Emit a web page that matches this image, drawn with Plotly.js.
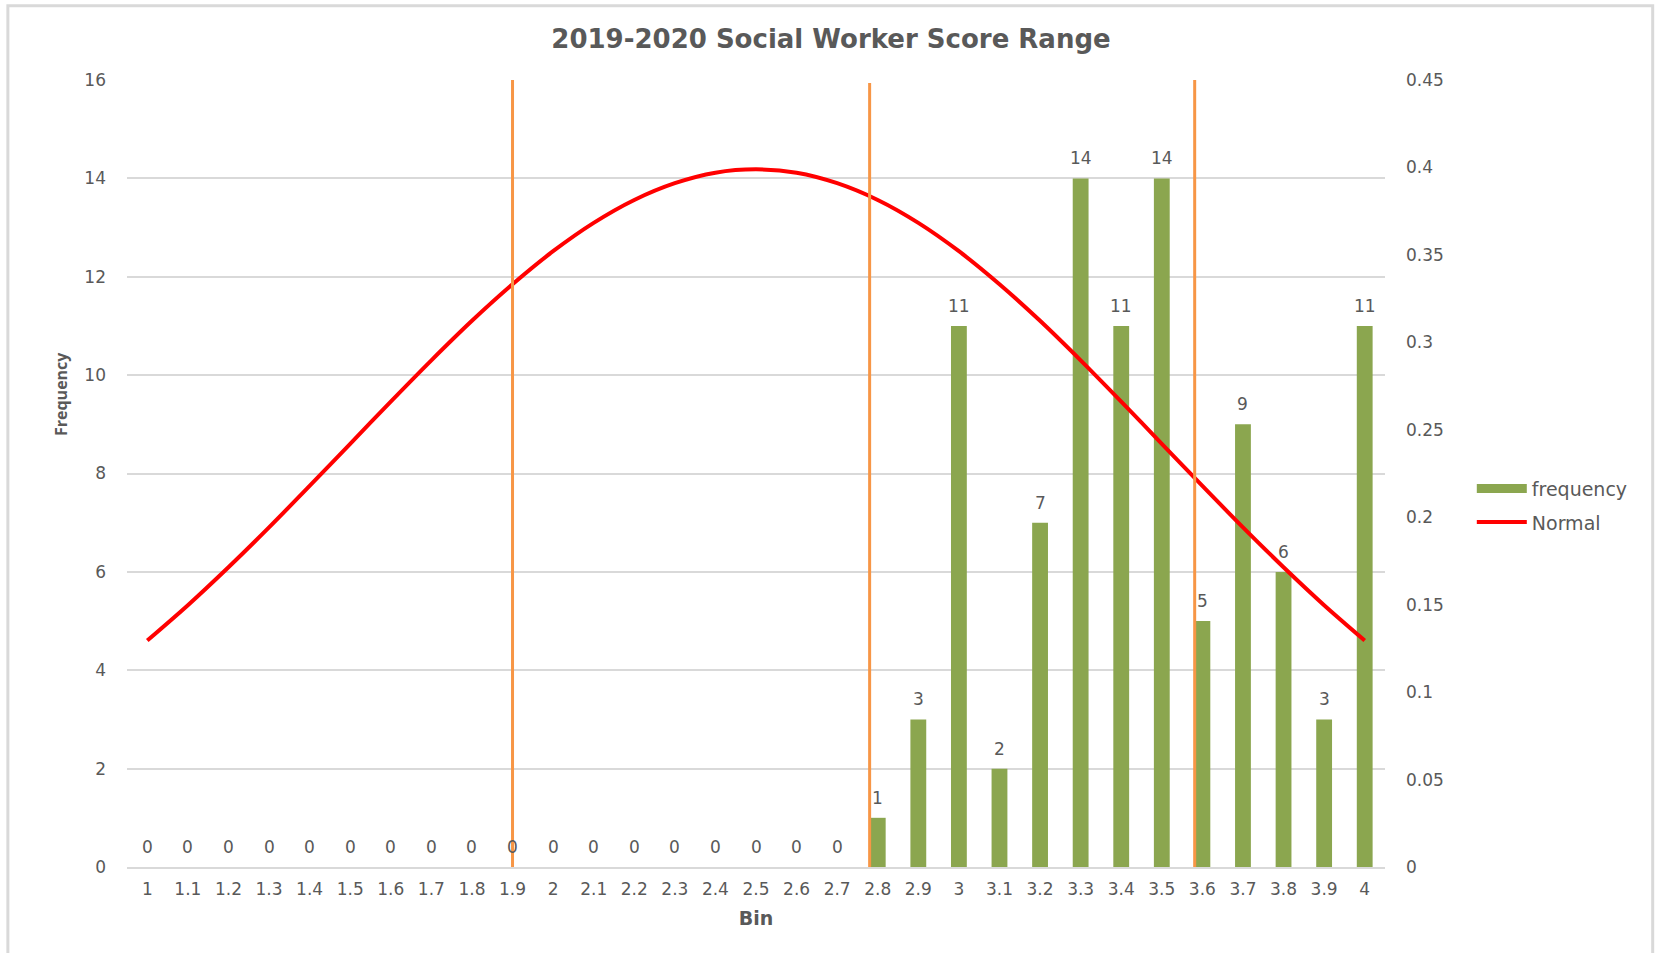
<!DOCTYPE html>
<html>
<head>
<meta charset="utf-8">
<script src="https://cdn.plot.ly/plotly-3.0.1.min.js"></script>
<style>
  html, body { margin: 0; padding: 0; background: #ffffff; }
  #chart { width: 1656px; height: 953px; }
</style>
</head>
<body>
<div id="chart"></div>
<script>
// ---- data ----
const bins = [1, 1.1, 1.2, 1.3, 1.4, 1.5, 1.6, 1.7, 1.8, 1.9,
              2, 2.1, 2.2, 2.3, 2.4, 2.5, 2.6, 2.7, 2.8, 2.9,
              3, 3.1, 3.2, 3.3, 3.4, 3.5, 3.6, 3.7, 3.8, 3.9, 4];
const binLabels = ["1","1.1","1.2","1.3","1.4","1.5","1.6","1.7","1.8","1.9",
                   "2","2.1","2.2","2.3","2.4","2.5","2.6","2.7","2.8","2.9",
                   "3","3.1","3.2","3.3","3.4","3.5","3.6","3.7","3.8","3.9","4"];
const frequency = [0, 0, 0, 0, 0, 0, 0, 0, 0, 0,
                   0, 0, 0, 0, 0, 0, 0, 0, 1, 3,
                   11, 2, 7, 14, 11, 14, 5, 9, 6, 3, 11];
const normal = [0.1295, 0.1497, 0.1714, 0.1942, 0.2179, 0.2420, 0.2661, 0.2897, 0.3123, 0.3332,
                0.3521, 0.3683, 0.3814, 0.3910, 0.3970, 0.3989, 0.3970, 0.3910, 0.3814, 0.3683,
                0.3521, 0.3332, 0.3123, 0.2897, 0.2661, 0.2420, 0.2179, 0.1942, 0.1714, 0.1497, 0.1295];
const markerLines = [1.9, 2.78, 3.581];
const markerTops = [16.0, 15.94, 16.05];
const leftTicks = [0, 2, 4, 6, 8, 10, 12, 14, 16];
const rightTicks = [0, 0.05, 0.1, 0.15, 0.2, 0.25, 0.3, 0.35, 0.4, 0.45];
const rightTickLabels = ["0", "0.05", "0.1", "0.15", "0.2", "0.25", "0.3", "0.35", "0.4", "0.45"];

const GREY = "#595959";
const FONT = "DejaVu Sans, Open Sans, sans-serif";

const traces = [
  {
    type: "bar",
    x: bins,
    y: frequency,
    name: "frequency",
    marker: { color: "#8BA64F" },
    showlegend: false,
    hoverinfo: "x+y",
    legendgroup: "a",
    xaxis: "x", yaxis: "y"
  },
  {
    type: "scatter",
    mode: "lines",
    x: [null], y: [null],
    name: "frequency",
    line: { color: "#8BA64F", width: 9 },
    legendgroup: "a",
    xaxis: "x", yaxis: "y"
  },
  {
    type: "scatter",
    mode: "lines",
    x: bins,
    y: normal,
    name: "Normal",
    line: { color: "#FF0000", width: 4, shape: "spline", smoothing: 0.8 },
    legendgroup: "b",
    xaxis: "x", yaxis: "y2"
  }
];

const shapes = markerLines.map((xv, i) => ({
  type: "line", xref: "x", yref: "y",
  x0: xv, x1: xv, y0: 0, y1: markerTops[i],
  line: { color: "#F79646", width: 3 },
  layer: "above"
}));
// chart border (light grey frame)
shapes.push({
  type: "rect", xref: "paper", yref: "paper",
  x0: -0.0947, x1: 1.2128, y0: -0.12, y1: 1.0945,
  line: { color: "#D9D9D9", width: 3 },
  fillcolor: "rgba(0,0,0,0)",
  layer: "below"
});

// data labels above each bar
const labelAnnotations = frequency.map((v, i) => ({
  x: bins[i], y: v, xref: "x", yref: "y",
  text: String(v),
  showarrow: false,
  xanchor: "center", yanchor: "middle",
  yshift: 20,
  font: { family: FONT, size: 17, color: GREY }
}));

const layout = {
  width: 1656,
  height: 953,
  margin: { l: 127, r: 271, t: 80, b: 86, pad: 0 },
  paper_bgcolor: "#ffffff",
  plot_bgcolor: "#ffffff",
  font: { family: FONT, color: GREY, size: 17 },
  title: {
    text: "<b>2019-2020 Social Worker Score Range</b>",
    font: { family: FONT, size: 26, color: GREY },
    x: 831 / 1656, xref: "container", xanchor: "center",
    y: 0.959, yref: "container", yanchor: "middle"
  },
  bargap: 0.61,
  showlegend: true,
  legend: {
    x: 1.069, y: 0.505, xanchor: "left", yanchor: "top",
    font: { family: FONT, size: 19, color: GREY },
    bgcolor: "rgba(0,0,0,0)",
    itemwidth: 50,
    tracegroupgap: 6
  },
  xaxis: {
    range: [0.95, 4.05],
    tickmode: "array",
    tickvals: bins,
    ticktext: binLabels,
    tickfont: { family: FONT, size: 17, color: GREY },
    showgrid: false,
    zeroline: false,
    showline: true,
    linecolor: "#D9D9D9",
    linewidth: 2,
    ticks: "",
    ticklabelstandoff: 6,
    title: { text: "<b>Bin</b>", font: { family: FONT, size: 19, color: GREY }, standoff: 13 },
    fixedrange: true
  },
  yaxis: {
    range: [0, 16],
    tickmode: "array",
    tickvals: leftTicks,
    tickfont: { family: FONT, size: 17, color: GREY },
    showgrid: true,
    gridcolor: "#D9D9D9",
    gridwidth: 2,
    zeroline: false,
    showline: false,
    ticks: "",
    ticklabelstandoff: 20,
    fixedrange: true
  },
  yaxis2: {
    overlaying: "y",
    side: "right",
    range: [0, 0.45],
    tickmode: "array",
    tickvals: rightTicks,
    ticktext: rightTickLabels,
    tickfont: { family: FONT, size: 17, color: GREY },
    showgrid: false,
    zeroline: false,
    showline: false,
    ticks: "",
    ticklabelstandoff: 20,
    fixedrange: true
  },
  annotations: [
    {
      text: "<b>Frequency</b>",
      textangle: -90,
      xref: "paper", yref: "paper",
      x: (61 - 127) / 1258, y: (867 - 394) / 787,
      xanchor: "center", yanchor: "middle",
      showarrow: false,
      font: { family: "Open Sans, sans-serif", size: 16, color: GREY }
    }
  ].concat(labelAnnotations),
  shapes: shapes
};

Plotly.newPlot("chart", traces, layout, { displayModeBar: false });
</script>
</body>
</html>
